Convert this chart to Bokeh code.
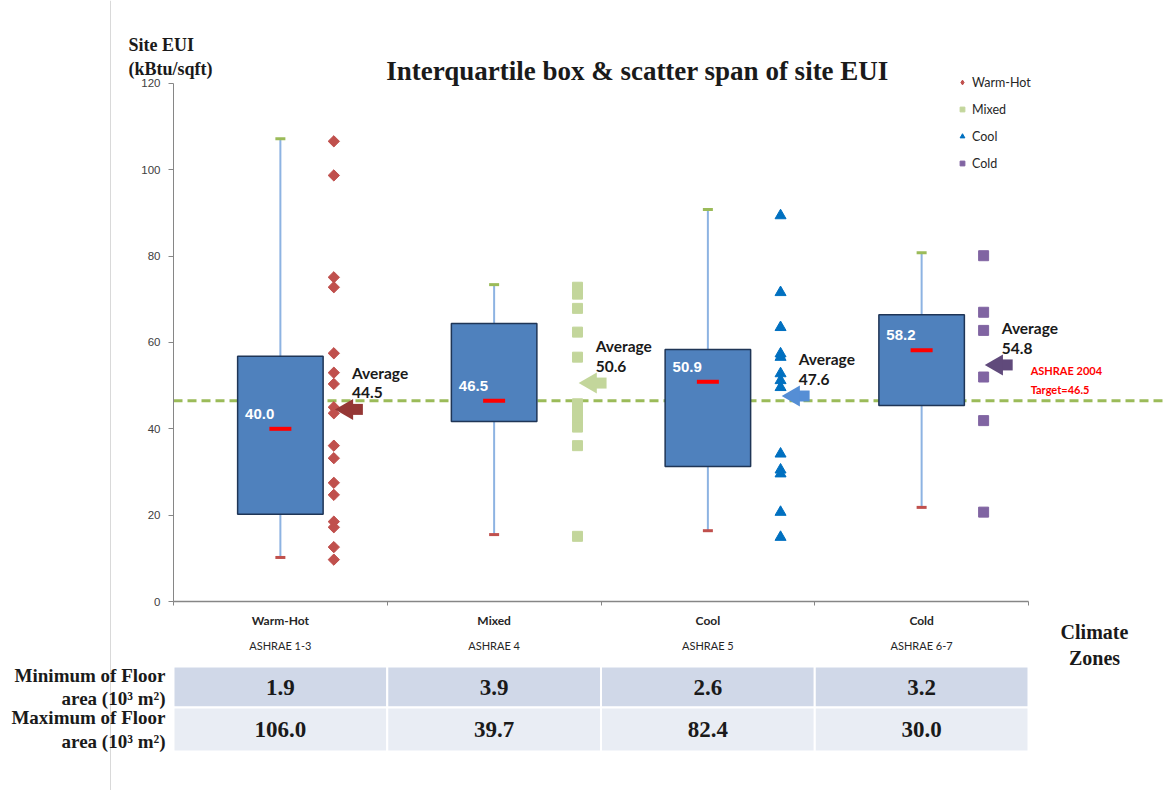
import math
from bokeh.plotting import figure
from bokeh.models import Range1d, FixedTicker
from bokeh.embed import file_html
from bokeh.resources import INLINE
from bokeh.core.properties import value

# ---------------- data ----------------
categories = ["Warm-Hot", "Mixed", "Cool", "Cold"]
zones = ["ASHRAE 1-3", "ASHRAE 4", "ASHRAE 5", "ASHRAE 6-7"]

q1 = [20.2, 41.7, 31.3, 45.4]
q3 = [56.8, 64.4, 58.4, 66.4]
medians = [40.0, 46.5, 50.9, 58.2]
whisker_low = [10.2, 15.5, 16.4, 21.8]
whisker_high = [107.2, 73.4, 90.8, 80.8]
averages = [44.5, 50.6, 47.6, 54.8]
target = 46.5

warm_hot = [106.6, 98.7, 75.1, 72.8, 57.5, 53.0, 50.4, 45.0, 43.6, 36.1,
            33.2, 27.5, 24.7, 18.5, 17.2, 12.6, 9.7]
mixed = [72.8, 71.2, 67.9, 62.4, 56.6, 45.8, 43.8, 41.9, 40.4, 36.1, 15.1]
cool = [89.4, 71.6, 63.5, 57.4, 56.6, 52.8, 51.2, 49.6, 34.2, 30.5, 29.6,
        20.7, 14.9]
cold = [80.1, 67.0, 62.8, 52.0, 41.9, 20.7]

y_ticks = [0, 20, 40, 60, 80, 100, 120]
table_rows = ["Minimum of Floor\narea (10\u00b3 m\u00b2)",
              "Maximum of Floor\narea (10\u00b3 m\u00b2)"]
min_floor = [1.9, 3.9, 2.6, 3.2]
max_floor = [106.0, 39.7, 82.4, 30.0]

# ---------------- layout constants (pixels of the page) ----------------
W, H = 1165, 790
X0_PX, Y0_PX = 173.0, 601.0          # where data (0, 0) sits
PX_PER_X, PX_PER_Y = 213.75, 4.317   # one category, one kBtu/sqft


def xd(px):
    return (px - X0_PX) / PX_PER_X


def yd(py):
    return (Y0_PX - py) / PX_PER_Y


series = [warm_hot, mixed, cool, cold]
markers = ["square", "square", "triangle", "square"]
legend_markers = ["diamond", "square", "triangle", "square"]
marker_angles = [math.pi / 4, 0, 0, 0]
marker_sizes = [8, 10, 11, 10]
point_colors = ["#c0504d", "#c3d69b", "#0070c0", "#8064a2"]
arrow_colors = ["#953735", "#c3d69b", "#558ed5", "#604a7b"]
scatter_offsets = [0.25, 0.39, 0.34, 0.29]
centers = [i + 0.5 for i in range(len(categories))]
box_width = 0.4
n = len(categories)

SERIF = value("Liberation Serif")
SANS = value("Lato")
ARIAL = value("Liberation Sans")
DARK = "#1a1a1a"

p = figure(width=W, height=H,
           x_range=Range1d(xd(0), xd(W)), y_range=Range1d(yd(H), yd(0)),
           min_border=0, min_border_left=0, min_border_right=0,
           min_border_top=0, min_border_bottom=0,
           output_backend="svg", toolbar_location=None)
p.outline_line_color = None
p.grid.visible = False
p.background_fill_color = "white"
p.border_fill_color = "white"

# y axis pinned at x = 0
ya = p.yaxis[0]
ya.fixed_location = 0
ya.ticker = FixedTicker(ticks=y_ticks, minor_ticks=[])
ya.bounds = (0, 120)
ya.axis_line_color = "#868686"
ya.major_tick_line_color = "#868686"
ya.major_tick_out = 5
ya.major_tick_in = 0
ya.minor_tick_out = 0
ya.minor_tick_in = 0
ya.major_label_standoff = 8
ya.major_label_text_font = "Liberation Sans"
ya.major_label_text_font_size = "11.5px"
ya.major_label_text_color = "#404040"

# x axis pinned at y = 0, ticks at category boundaries
xa = p.xaxis[0]
xa.fixed_location = 0
xa.ticker = FixedTicker(ticks=list(range(n + 1)), minor_ticks=[])
xa.bounds = (0, n)
xa.axis_line_color = "#868686"
xa.axis_line_width = 1.5
xa.major_tick_line_color = "#868686"
xa.major_tick_out = 4
xa.major_tick_in = 0
xa.minor_tick_out = 0
xa.minor_tick_in = 0
xa.major_label_overrides = {i: "" for i in range(n + 1)}
xa.major_label_text_font_size = "1px"
xa.major_label_standoff = 0

# faint vertical page rule at the left
p.segment(x0=[xd(110)], y0=[yd(0)], x1=[xd(110)], y1=[yd(H)],
          line_color="#d9d9d9", line_width=1)

# target line
p.segment(x0=[0], y0=[target], x1=[xd(W)], y1=[target], line_color="#9bbb59",
          line_width=3, line_dash="9 5")

# whiskers
p.segment(x0=centers, y0=whisker_low, x1=centers, y1=whisker_high,
          line_color="#8db3e2", line_width=2)
p.rect(x=centers, y=whisker_high, width=10, width_units="screen",
       height=3, height_units="screen", fill_color="#9bbb59", line_color=None)
p.rect(x=centers, y=whisker_low, width=10, width_units="screen",
       height=3, height_units="screen", fill_color="#c0504d", line_color=None)

# boxes
p.vbar(x=centers, width=box_width, bottom=q1, top=q3,
       fill_color="#4f81bd", line_color="#1f3556", line_width=1.5)
p.rect(x=centers, y=medians, width=22, width_units="screen",
       height=4, height_units="screen", fill_color="#ff0000", line_color=None)
p.text(x=[c - box_width / 2 + 0.035 for c in centers], y=medians,
       text=[f"{m:.1f}" for m in medians], text_align="left",
       text_baseline="bottom", y_offset=-10,
       text_font=ARIAL, text_font_style="bold",
       text_font_size="15px", text_color="white")

# scatter of individual buildings
for vals, cat, c, off, mk, lmk, ang, sz, col in zip(
        series, categories, centers, scatter_offsets, markers,
        legend_markers, marker_angles, marker_sizes, point_colors):
    xs = [c + off] * len(vals)
    if ang:
        # legend glyph drawn underneath the rotated markers
        p.scatter(x=xs, y=vals, marker=lmk, size=10, fill_color=col,
                  line_color=col, legend_label=cat)
        p.scatter(x=xs, y=vals, marker=mk, angle=ang, size=sz,
                  fill_color=col, line_color=col)
    else:
        p.scatter(x=xs, y=vals, marker=mk, size=sz, fill_color=col,
                  line_color=col, legend_label=cat)

# average arrows + labels
ax = [c + off for c, off in zip(centers, scatter_offsets)]
p.rect(x=[a + 0.108 for a in ax], y=averages, width=0.056, height=11,
       height_units="screen", fill_color=arrow_colors, line_color=None)
p.scatter(x=[a + 0.062 for a in ax], y=averages, marker="triangle",
          angle=math.pi / 2, size=21, fill_color=arrow_colors, line_color=None)
p.text(x=[a + 0.085 for a in ax], y=averages,
       text=[f"Average\n{a}" for a in averages], text_align="left",
       text_baseline="bottom", y_offset=-8, text_font=SANS,
       text_font_style="bold", text_font_size="15.5px", text_color=DARK,
       text_line_height=1.1)

# target text
p.text(x=[4.01], y=[target], text=[f"ASHRAE 2004\nTarget={target}"],
       text_align="left", text_baseline="bottom", y_offset=-5,
       text_font=SANS, text_font_style="bold", text_font_size="11px",
       text_color="#ff0000", text_line_height=1.45)

# category labels under the axis
p.text(x=centers, y=[yd(620)] * n, text=categories, text_align="center",
       text_baseline="middle", text_font=SANS, text_font_style="bold",
       text_font_size="12px", text_color="#262626")
p.text(x=centers, y=[yd(645)] * n, text=zones, text_align="center",
       text_baseline="middle", text_font=SANS,
       text_font_size="11px", text_color="#262626")

# titles
p.text(x=[xd(637)], y=[yd(70)], text=["Interquartile box & scatter span of site EUI"],
       text_align="center", text_baseline="middle", text_font=SERIF,
       text_font_style="bold", text_font_size="27px", text_color=DARK)
p.text(x=[xd(128)], y=[yd(34)], text=["Site EUI\n(kBtu/sqft)"],
       text_align="left", text_baseline="top", text_font=SERIF,
       text_font_style="bold", text_font_size="18px", text_color=DARK,
       text_line_height=1.2)
p.text(x=[xd(1094)], y=[yd(620)], text=["Climate\nZones"],
       text_align="center", text_baseline="top", text_font=SERIF,
       text_font_style="bold", text_font_size="20px", text_color=DARK,
       text_line_height=1.2)

# ---------------- table ----------------
row_top, row_mid, row_bot = yd(666), yd(707), yd(751)
lefts = list(range(n))
rights = [i + 1 for i in range(n)]
p.quad(left=lefts, right=rights, bottom=[row_mid] * n, top=[row_top] * n,
       fill_color="#d0d8e8", line_color="white", line_width=2)
p.quad(left=lefts, right=rights, bottom=[row_bot] * n, top=[row_mid] * n,
       fill_color="#e9edf4", line_color="white", line_width=2)
r1 = (row_top + row_mid) / 2
r2 = (row_mid + row_bot) / 2
p.text(x=centers, y=[r1] * n, text=[f"{v:.1f}" for v in min_floor],
       text_align="center", text_baseline="middle", text_font=SERIF,
       text_font_style="bold", text_font_size="23px", text_color=DARK)
p.text(x=centers, y=[r2] * n, text=[f"{v:.1f}" for v in max_floor],
       text_align="center", text_baseline="middle", text_font=SERIF,
       text_font_style="bold", text_font_size="23px", text_color=DARK)
p.text(x=[xd(165)] * 2, y=[r1, r2], text=table_rows,
       text_align="right", text_baseline="middle", text_font=SERIF,
       text_font_style="bold", text_font_size="19px", text_color=DARK,
       text_line_height=1.1)

# legend
lg = p.legend[0]
lg.location = (956, H - 173)
lg.background_fill_alpha = 0
lg.border_line_color = None
lg.label_text_font = "Lato"
lg.label_text_font_size = "12.5px"
lg.label_text_color = "#262626"
lg.glyph_width = 12
lg.glyph_height = 20
lg.label_height = 20
lg.spacing = 7
lg.padding = 0
lg.margin = 0
lg.label_standoff = 4

open("out.html", "w").write(file_html(p, INLINE))
